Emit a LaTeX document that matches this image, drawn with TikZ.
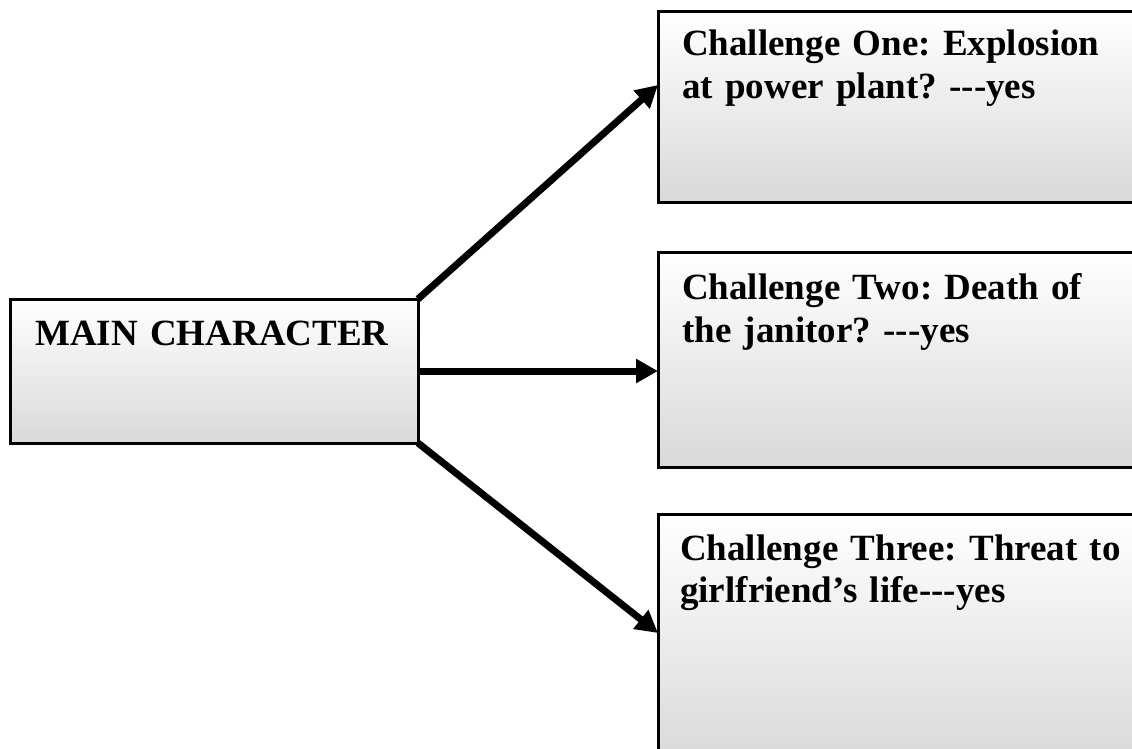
\documentclass[tikz,border=0pt]{standalone}
\usepackage{fontspec}
\setmainfont{Liberation Serif}
\usetikzlibrary{arrows.meta,calc}
% a single hyphen kept apart so that three in a row stay three hyphens
\newcommand\hy{\hbox{-}}
\frenchspacing
\tikzset{
  box/.style={draw=black, line width=3pt, rectangle, inner sep=0pt, outer sep=0pt,
              top color=white, bottom color=gray!30},
  boxtext/.style={anchor=base west, inner sep=0pt, align=left, text width=480pt,
              font=\fontsize{37}{42.5}\selectfont\bfseries},
  link/.style={line width=7pt, -{Triangle[length=22pt,width=23pt]}}
}
\begin{document}
\begin{tikzpicture}[x=1pt,y=-1pt]
\clip (0,0) rectangle (1132,749);
\fill[white] (0,0) rectangle (1132,749);

% boxes
\node[box, minimum width=408pt, minimum height=144pt] (main) at (214,371) {};
\node[box, minimum width=542pt, minimum height=190pt] (c1) at (929,107) {};
\node[box, minimum width=542pt, minimum height=215pt] (c2) at (929,359.5) {};
\node[box, minimum width=542pt, minimum height=250pt] (c3) at (929,639) {};

% texts
\node[boxtext] (mtext) at (35,345) {MAIN CHARACTER};
\node[boxtext] (t1) at (682,56) {Challenge One: Explosion\\at power plant? \hy\hy\hy yes};
\node[boxtext] (t2) at (682,299.5) {Challenge Two: Death of\\the janitor? \hy\hy\hy yes};
\node[boxtext] (t3) at (680,560) {Challenge Three: Threat to\\girlfriend’s life\hy\hy\hy yes};

% connectors
\draw[link] (main.north east) -- ($(c1.north west)+(0,73)$);
\draw[link] (main.east) -- ($(c2.north west)+(0,119)$);
\draw[link] (main.south east) -- ($(c3.north west)+(0,119)$);
\end{tikzpicture}
\end{document}
